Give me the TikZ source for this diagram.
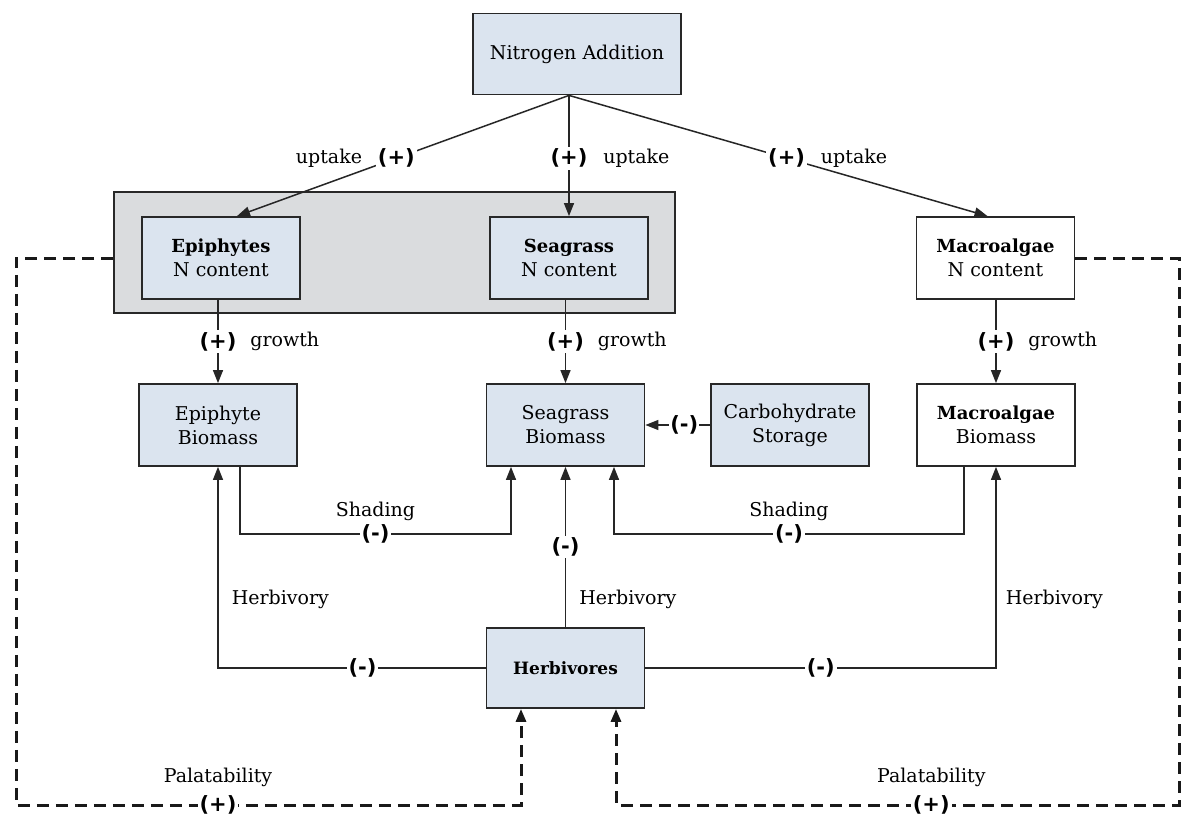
\documentclass[tikz,border=0pt]{standalone}
\usepackage{fontspec}
\setmainfont{DejaVu Serif}
\setsansfont{DejaVu Sans}
\usetikzlibrary{arrows.meta,positioning}
\definecolor{boxblue}{RGB}{219,228,239}
\definecolor{grpgray}{RGB}{218,220,222}
\definecolor{edgegray}{RGB}{40,40,40}
\newcommand{\bname}[1]{{\fontsize{18}{24}\selectfont\bfseries #1}}

\begin{document}
\begin{tikzpicture}[x=1pt,y=-1pt,
    box/.style={draw=edgegray,line width=1.8pt,fill=boxblue,align=center,
                minimum width=158pt,minimum height=82pt,inner sep=0pt,
                font=\fontsize{19}{24}\selectfont},
    plainbox/.style={box,fill=white},
    grpbox/.style={draw=edgegray,line width=1.8pt,fill=grpgray},
    sign/.style={fill=white,inner sep=2pt,font=\sffamily\bfseries\fontsize{21}{23}\selectfont},
    lbl/.style={inner sep=1pt,font=\fontsize{19}{22}\selectfont},
    arr/.style={-{Triangle[length=13pt,width=10pt]},line width=1.5pt,draw=black!85},
    palarr/.style={-{Triangle[length=13pt,width=10pt]},line width=3pt,
                   dash pattern=on 12pt off 7pt,draw=black!90}]
  \fill[white] (0,0) rectangle (1187,816);
  \useasboundingbox (0,0) rectangle (1187,816);

  % boxes
  \node[box,minimum width=208pt,minimum height=81pt] (nitro) at (577,54) {Nitrogen Addition};
  \node[grpbox,minimum width=561pt,minimum height=121pt] (grp) at (394.5,252.5) {};
  \node[box] (epiN) at (221,258) {\bname{Epiphytes}\\N content};
  \node[box] (sgN) at (569,258) {\bname{Seagrass}\\N content};
  \node[plainbox] (maN) at (995.5,258) {\bname{Macroalgae}\\N content};
  \node[box] (epiB) at (218,425) {Epiphyte\\Biomass};
  \node[box] (sgB) at (565.5,425) {Seagrass\\Biomass};
  \node[box] (carb) at (790,425) {Carbohydrate\\Storage};
  \node[plainbox] (maB) at (996,425) {\bname{Macroalgae}\\Biomass};
  \node[box,minimum height=80pt] (herb) at (565.5,668)
    {{\fontsize{17}{24}\selectfont\bfseries Herbivores}};
  \coordinate (palL) at (16,805);
  \coordinate (palR) at (1179,805);

  % uptake
  \draw[arr] (nitro.south -| sgN.north) -- ([xshift=16pt]epiN.north)
    node[sign,pos=.52] (upE) {(+)};
  \node[lbl,left=12pt of upE] {uptake};
  \draw[arr] (nitro.south -| sgN.north) -- (sgN.north)
    node[sign,pos=.52] (upS) {(+)};
  \node[lbl,right=12pt of upS] {uptake};
  \draw[arr] (nitro.south -| sgN.north) -- ([xshift=-8pt]maN.north)
    node[sign,pos=.52] (upM) {(+)};
  \node[lbl,right=12pt of upM] {uptake};

  % growth
  \draw[arr] (epiB.north |- epiN.south) -- (epiB.north) node[sign,midway] (grE) {(+)};
  \node[lbl,right=10pt of grE] {growth};
  \draw[arr] (sgB.north |- sgN.south) -- (sgB.north) node[sign,midway] (grS) {(+)};
  \node[lbl,right=10pt of grS] {growth};
  \draw[arr] (maB.north |- maN.south) -- (maB.north) node[sign,midway] (grM) {(+)};
  \node[lbl,right=10pt of grM] {growth};

  % storage
  \draw[arr] (carb.west) -- (sgB.east) node[sign,pos=.4,inner sep=1pt] {(-)};

  % shading
  \draw[arr] ([xshift=22pt]epiB.south) -- ++(0,67) -| ([xshift=-54.5pt]sgB.south)
    node[sign,pos=.25] (shE) {(-)};
  \node[lbl,above=0pt of shE] {Shading};
  \draw[arr] ([xshift=-32pt]maB.south) -- ++(0,67) -| ([xshift=48.5pt]sgB.south)
    node[sign,pos=.25] (shM) {(-)};
  \node[lbl,above=0pt of shM] {Shading};

  % herbivory
  \draw[arr] (herb.west) -| (epiB.south) node[sign,pos=.23] {(-)}
    node[lbl,pos=.67,right=12pt] {Herbivory};
  \draw[arr] (herb.north) -- (sgB.south) node[sign,pos=.5] {(-)}
    node[lbl,pos=.17,right=12pt] {Herbivory};
  \draw[arr] (herb.east) -| (maB.south) node[sign,pos=.25] {(-)}
    node[lbl,pos=.67,right=8pt] {Herbivory};

  % palatability
  \draw[palarr] ([yshift=-5.5pt]grp.west) -| (palL) -| ([xshift=-44.5pt]herb.south)
    node[sign,pos=.2] (paE) {(+)};
  \node[lbl,above=4pt of paE] {Palatability};
  \draw[palarr] (maN.east) -| (palR) -| ([xshift=50.5pt]herb.south)
    node[sign,pos=.22] (paM) {(+)};
  \node[lbl,above=4pt of paM] {Palatability};
\end{tikzpicture}
\end{document}
